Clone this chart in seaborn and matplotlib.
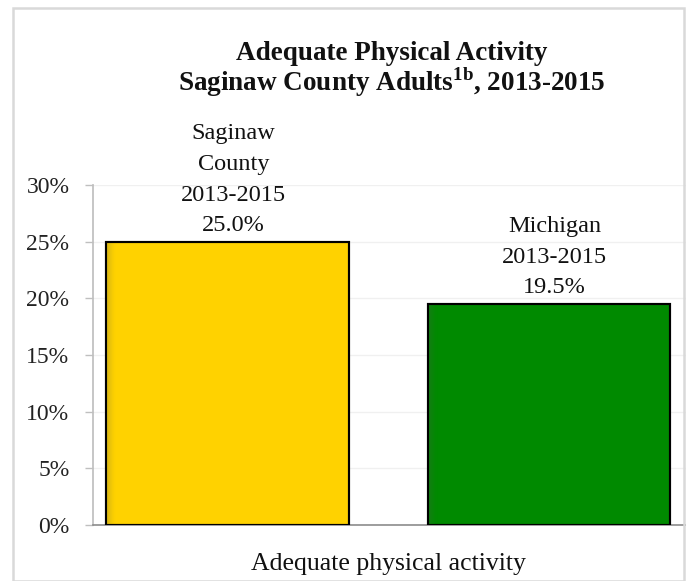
import matplotlib
matplotlib.use("Agg")
import matplotlib.pyplot as plt
import seaborn as sns
import pandas as pd
import numpy as np
from matplotlib.patches import Rectangle
from matplotlib.ticker import FuncFormatter
from matplotlib.colors import to_rgb

series = ["Saginaw County 2013-2015", "Michigan 2013-2015"]
values = [25.0, 19.5]
bar_labels = ["Saginaw\nCounty\n2013-2015\n25.0%", "Michigan\n2013-2015\n19.5%"]
colors = ["#FFD200", "#008A00"]
yticks = [0, 5, 10, 15, 20, 25, 30]
title_line1 = "Adequate Physical Activity"
title_line2 = r"Saginaw County Adults$^{\mathbf{1b}}$, 2013-2015"
xlabel = "Adequate physical activity"

sns.set_theme(style="white")
plt.rcParams["font.family"] = ["Liberation Serif", "DejaVu Serif"]
plt.rcParams["mathtext.fontset"] = "custom"
plt.rcParams["mathtext.rm"] = "Liberation Serif"
plt.rcParams["mathtext.bf"] = "Liberation Serif:bold"

df = pd.DataFrame({"series": series, "value": values})

W, H = 686, 581
fig = plt.figure(figsize=(W / 100, H / 100), dpi=100)
ax = fig.add_axes([93 / W, 1 - 525 / H, (W - 93) / W, (525 - 185) / H])

sns.barplot(data=df, x="series", y="value", hue="series", order=series,
            hue_order=series, palette=colors, saturation=1, width=0.756,
            dodge=False, edgecolor="black", linewidth=1.5, legend=False,
            ax=ax, zorder=3)

# subtle shading on the left edge of each bar
for p, c in zip(list(ax.patches), colors):
    x0, w, h = p.get_x(), p.get_width(), p.get_height()
    rgb = np.array(to_rgb(c))
    n = 32
    grad = np.zeros((1, n, 4))
    t = np.linspace(0, 1, n)
    grad[0, :, :3] = rgb * 0.65 + 0.12
    grad[0, :, 3] = (1 - t) ** 1.5 * 0.8
    ax.imshow(grad, extent=[x0, x0 + w * 0.04, 0, h], aspect="auto",
              zorder=3.5, interpolation="bilinear")
    ax.add_patch(Rectangle((x0, 0), w, h, fill=False, edgecolor="black",
                           linewidth=1.5, zorder=4))

ax.set_xlim(-0.42, 1.427)
ax.set_ylim(0, 30)
ax.set_yticks(yticks)
ax.yaxis.set_major_formatter(FuncFormatter(lambda v, p: f"{int(v)}%"))
ax.tick_params(axis="y", labelsize=17, colors="#222222", length=6, width=1,
               direction="out", left=True, color="#bfbfbf", pad=11)
ax.set_xticks([])
ax.set_xlabel("")
ax.set_ylabel("")
ax.grid(axis="y", color="#f0f0f0", linewidth=1, zorder=0)
for s in ["top", "right"]:
    ax.spines[s].set_visible(False)
ax.spines["left"].set_color("#bfbfbf")
ax.spines["bottom"].set_color("#8c8c8c")
ax.spines["bottom"].set_linewidth(1.2)

for i, (v, lab) in enumerate(zip(values, bar_labels)):
    ax.annotate(lab, xy=(i, v), xytext=(4, 4), textcoords="offset points",
                ha="center", va="bottom", fontsize=17.5, linespacing=1.6,
                color="#111111")

fig.text(392 / W, 1 - 60 / H, title_line1, ha="center", va="baseline",
         fontsize=19.5, fontweight="bold", color="#111111")
fig.text(392 / W, 1 - 91 / H, title_line2, ha="center", va="baseline",
         fontsize=19.5, fontweight="bold", color="#111111")
fig.text(388 / W, 1 - 564 / H, xlabel, ha="center", va="center",
         fontsize=18.5, color="#111111")

fig.patches.append(Rectangle((12.5 / W, 0.0), (684 - 12.5) / W, 1 - 7.5 / H,
                             transform=fig.transFigure, fill=False,
                             edgecolor="#d9d9d9", linewidth=1.8))

fig.savefig("out.png", dpi=100)
